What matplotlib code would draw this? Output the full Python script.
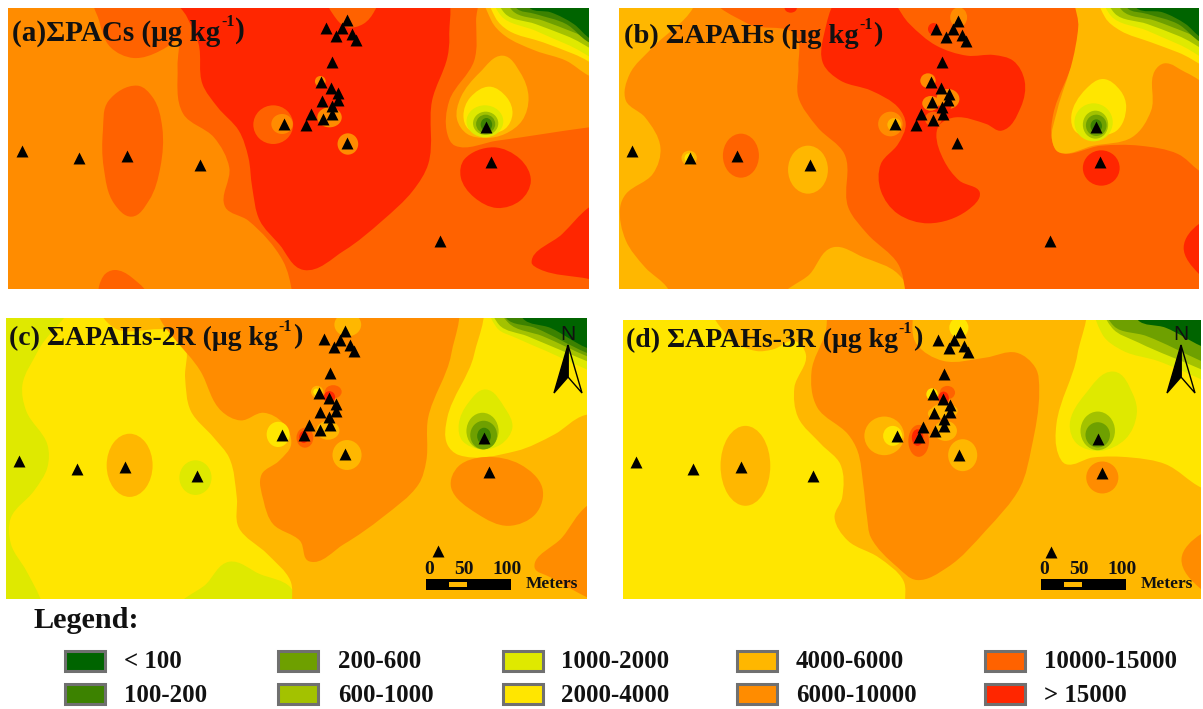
import numpy as np
import matplotlib
matplotlib.use("Agg")
import matplotlib.pyplot as plt
from matplotlib.path import Path
from matplotlib.patches import PathPatch, Ellipse, Rectangle, Polygon

plt.rcParams['font.family'] = ['Liberation Serif', 'DejaVu Serif']
plt.rcParams['font.weight'] = 'bold'

W, H = 1203, 709

class_labels = ['< 100', '100-200', '200-600', '600-1000', '1000-2000', '2000-4000',
                '4000-6000', '6000-10000', '10000-15000', '> 15000']
class_colors = ['#006400', '#3c8200', '#6ea000', '#a3c200', '#dfe900', '#ffe600',
                '#ffb700', '#ff8c00', '#ff6200', '#ff2600']

# Sampling stations, per panel
stations_a = [(58,450),(207,473),(333,467),(523,494),(743,371),(800,372),(814,341),(845,355),(868,340),(868,317),(843,302),(884,297),(885,277),(867,261),(839,245),(868,184),(852,83),(880,107),(895,83),(908,58),(921,100),(932,118),(907,428),(1271,380),(1283,483),(1151,722)]
stations_b = [(77,450),(226,473),(351,467),(541,494),(761,371),(818,372),(831,341),(861,357),(886,340),(884,319),(859,303),(901,299),(902,279),(883,262),(855,245),(885,185),(869,85),(896,108),(912,85),(926,60),(936,102),(948,120),(924,428),(1287,380),(1298,483),(1166,722)]
stations_c = [(52,450),(202,473),(328,467),(517,494),(739,371),(795,373),(808,342),(838,357),(864,342),(862,319),(837,303),(878,301),(880,278),(862,262),(834,245),(863,185),(847,84),(874,108),(889,85),(903,60),(916,100),(926,118),(903,428),(1266,381),(1278,483),(1145,722)]
stations_d = [(86,453),(235,475),(360,470),(549,497),(768,374),(825,377),(837,347),(867,361),(892,345),(891,323),(865,307),(906,304),(908,283),(889,265),(862,249),(891,188),(876,88),(903,112),(918,88),(932,63),(944,105),(954,122),(931,431),(1293,384),(1303,486),(1171,723)]

# Contour regions: (class index, outline) painted in order
regions_a = [
 (8, [(440,-60),(470,100),(465,200),(480,340),(560,410),(600,500),(590,620),(650,660),(740,780),(765,880),(770,1000),(1800,1000),(1800,345),(1540,380),(1300,420),(1190,435),(1170,400),(1175,300),(1240,180),(1245,60),(1240,-60)]),
 (8, [(250,-20),(260,60),(290,140),(350,172),(420,150),(480,90),(470,-20)]),
 (8, [(360,255),(400,290),(425,380),(420,500),(390,600),(345,648),(300,610),(272,500),(270,390),(285,300)]),
 (8, [(268,900),(272,825),(300,808),(345,830),(385,900)]),
 (9, [(440,-60),(490,50),(520,130),(530,250),(570,320),(625,390),(650,470),(660,560),(680,660),(730,730),(795,808),(900,750),(1000,660),(1080,570),(1120,490),(1130,300),(1170,170),(1175,110),(1150,-60)]),
 (8, [(860,-20),(880,55),(910,80),(950,70),(980,30),(990,-20)]),
 (9, [(1290,440),(1360,475),(1388,540),(1360,600),(1300,622),(1240,590),(1205,530),(1215,475)]),
 (9, [(1700,520),(1540,620),(1470,700),(1390,785),(1410,805),(1540,835),(1700,880)]),
 (6, [(1315,165),(1360,215),(1382,290),(1365,360),(1320,400),(1270,412),(1222,400),(1195,355),(1205,290),(1255,215)]),
 (5, [(1280,258),(1325,290),(1340,340),(1320,385),(1270,400),(1225,385),(1212,345),(1230,290)]),
 (6, [(1272,-60),(1285,60),(1320,105),(1400,150),(1480,180),(1540,225),(1800,330),(1800,-60)]),
 (5, [(1282,-60),(1295,50),(1330,90),(1420,125),(1500,160),(1800,300),(1800,-60)]),
 (4, [(1295,-60),(1310,45),(1400,90),(1480,130),(1800,275),(1800,-60)]),
 (3, [(1305,-60),(1320,38),(1400,70),(1480,105),(1800,250),(1800,-60)]),
 (2, [(1325,-60),(1340,30),(1420,60),(1500,95),(1800,230),(1800,-60)]),
 (1, [(1345,-60),(1350,22),(1400,40),(1480,70),(1540,125),(1800,220),(1800,-60)]),
 (0, [(1375,-60),(1385,22),(1440,35),(1500,70),(1545,115),(1800,200),(1800,-60)]),
]
spots_a = [(8,715,372,52,58),(7,738,370,28,30),(7,910,430,27,32),(7,862,350,32,30),(7,838,242,14,16),
           (4,1268,362,48,48),(3,1270,368,33,35),(2,1270,370,25,28),(1,1272,372,15,20)]

regions_b = [
 (6, [(-200,-100),(260,-100),(235,22),(130,140),(70,220),(60,300),(110,350),(150,440),(130,520),(60,580),(45,620),(60,720),(110,800),(170,865),(200,1000),(-200,1000)]),
 (6, [(470,900),(540,820),(600,740),(680,770),(770,820),(800,900)]),
 (8, [(280,-40),(380,70),(500,100),(510,200),(510,290),(560,380),(630,460),(640,620),(690,700),(770,790),(790,880),(800,1000),(1800,1000),(1800,700),(1555,510),(1500,460),(1400,435),(1300,435),(1190,455),(1172,420),(1175,340),(1230,170),(1240,90),(1240,-60)]),
 (9, [(640,-40),(575,110),(575,190),(620,240),(700,270),(770,320),(790,370),(770,430),(725,490),(725,570),(770,640),(850,668),(950,630),(983,575),(930,540),(890,480),(870,400),(880,370),(920,350),(1000,370),(1040,390),(1090,320),(1100,240),(1070,180),(1020,163),(950,165),(870,135),(800,70),(720,-40)]),
 (9, [(1800,600),(1555,670),(1515,740),(1555,820),(1800,1000)]),
 (6, [(1240,-60),(1240,80),(1225,180),(1185,330),(1172,420),(1190,455),(1280,435),(1380,410),(1430,330),(1440,210),(1465,188),(1520,215),(1800,370),(1800,-60)]),
 (5, [(1305,235),(1350,270),(1365,320),(1340,390),(1290,405),(1235,395),(1222,345),(1260,265)]),
 (5, [(1297,-60),(1310,50),(1350,90),(1430,125),(1500,155),(1800,300),(1800,-60)]),
 (4, [(1312,-60),(1325,45),(1420,90),(1500,130),(1800,275),(1800,-60)]),
 (3, [(1320,-60),(1335,38),(1420,70),(1500,105),(1800,250),(1800,-60)]),
 (2, [(1340,-60),(1355,30),(1440,60),(1520,95),(1800,230),(1800,-60)]),
 (1, [(1362,-60),(1368,22),(1420,40),(1500,70),(1560,125),(1800,220),(1800,-60)]),
 (0, [(1380,-60),(1392,22),(1460,35),(1520,70),(1560,110),(1800,200),(1800,-60)]),
]
spots_b = [(9,490,22,16,14),(8,360,465,47,66),(6,225,472,20,22),(5,225,472,12,14),(6,535,507,52,72),
           (7,750,370,32,37),(6,760,372,18,20),(9,1300,502,48,53),(7,928,50,22,30),(9,863,85,15,18),
           (7,848,240,20,22),(7,900,295,30,30),(7,855,308,22,22),(8,862,355,22,22),(9,895,318,14,12),
           (4,1280,365,50,57),(3,1285,372,33,42),(2,1287,374,27,32),(1,1287,376,15,20)]

regions_c = [
 (4, [(-200,-100),(200,-100),(100,120),(60,220),(70,300),(125,400),(125,470),(90,540),(30,620),(30,700),(70,780),(112,880),(130,1000),(-200,1000)]),
 (4, [(470,900),(540,820),(600,753),(680,790),(760,830),(775,900)]),
 (6, [(265,-30),(300,50),(450,60),(485,100),(485,200),(500,300),(560,380),(600,440),(620,560),(625,650),(700,730),(760,810),(765,880),(775,1000),(1800,1000),(1800,320),(1530,312),(1450,370),(1350,420),(1200,432),(1170,400),(1170,320),(1240,130),(1245,-60)]),
 (7, [(420,-60),(530,190),(580,300),(630,328),(690,305),(740,335),(762,400),(730,450),(685,490),(690,570),(715,640),(785,690),(810,752),(900,700),(1000,620),(1095,520),(1115,450),(1120,320),(1180,130),(1180,-60)]),
 (7, [(1270,438),(1360,460),(1418,530),(1400,610),(1330,645),(1250,610),(1180,530),(1200,465)]),
 (7, [(1700,500),(1535,585),(1470,680),(1398,770),(1440,800),(1535,860),(1700,950)]),
 (4, [(1270,235),(1320,290),(1340,350),(1310,400),(1260,415),(1210,390),(1200,340),(1225,275)]),
 (4, [(1285,-60),(1300,50),(1350,80),(1430,120),(1535,175),(1800,300),(1800,-60)]),
 (3, [(1292,-60),(1305,40),(1380,75),(1535,150),(1800,275),(1800,-60)]),
 (2, [(1305,-60),(1330,35),(1420,75),(1535,135),(1800,250),(1800,-60)]),
 (1, [(1318,-60),(1325,22),(1400,50),(1535,125),(1800,230),(1800,-60)]),
 (0, [(1360,-60),(1368,22),(1440,50),(1535,110),(1800,190),(1800,-60)]),
]
spots_c = [(6,910,40,35,35),(5,728,370,30,38),(6,908,432,38,45),(6,858,358,30,28),(6,830,242,16,18),(5,828,242,8,10),
           (8,872,242,22,20),(9,862,258,15,18),(7,862,285,14,22),(8,798,380,22,30),(9,795,378,12,18),
           (6,340,463,60,95),(4,512,500,42,52),
           (3,1262,360,42,55),(2,1265,372,35,43),(1,1266,375,18,25)]

regions_d = [
 (6, [(285,-60),(330,80),(400,120),(445,115),(500,90),(530,130),(500,230),(510,320),(570,400),(620,460),(625,560),(605,620),(640,690),(720,740),(785,810),(790,880),(800,1000),(1800,1000),(1800,620),(1563,530),(1470,460),(1380,440),(1280,440),(1210,460),(1190,430),(1185,340),(1240,130),(1245,-60)]),
 (7, [(610,-60),(580,70),(545,180),(560,290),(640,370),(665,420),(680,520),(690,620),(700,680),(770,770),(820,808),(900,770),(1000,660),(1090,530),(1120,410),(1140,240),(1130,170),(1080,125),(1000,140),(890,150),(820,100),(790,-60)]),
 (7, [(1800,600),(1563,670),(1512,745),(1563,835),(1800,950)]),
 (4, [(1335,182),(1385,250),(1395,310),(1365,385),(1300,420),(1240,400),(1220,340),(1260,250)]),
 (4, [(1297,-60),(1305,70),(1360,120),(1450,150),(1563,205),(1800,330),(1800,-60)]),
 (3, [(1308,-60),(1330,50),(1400,95),(1563,175),(1800,300),(1800,-60)]),
 (2, [(1315,-60),(1335,45),(1420,75),(1563,150),(1800,270),(1800,-60)]),
 (0, [(1392,-60),(1398,27),(1470,50),(1563,105),(1800,210),(1800,-60)]),
]
spots_d = [(6,735,375,52,58),(5,757,375,25,30),(6,940,433,38,48),(6,895,360,30,30),(5,860,250,15,18),
           (6,892,300,35,22),(6,865,308,16,16),(5,930,50,25,30),(8,825,390,27,48),(9,822,380,15,25),
           (8,900,245,20,20),(9,890,262,14,20),(6,372,465,65,120),(7,1305,500,42,48),
           (3,1293,360,45,58),(2,1293,372,32,38)]

panels = [
 dict(base=7, box=(8,8,589,289),   lim=(22,1540,865,22),  reg=regions_a, spots=spots_a, st=stations_a),
 dict(base=7, box=(619,8,1199,289),lim=(42,1555,865,22),  reg=regions_b, spots=spots_b, st=stations_b),
 dict(base=5, box=(6,318,587,599), lim=(17,1535,865,20),  reg=regions_c, spots=spots_c, st=stations_c),
 dict(base=5, box=(623,320,1201,599),lim=(52,1563,865,27),reg=regions_d, spots=spots_d, st=stations_d),
]

titles = [
 (12, 33, '(a)\u03a3PACs (\u03bcg kg', '-1', ')', 21),
 (624, 36, '(b) \u03a3APAHs (\u03bcg kg', '-1', ')', 20.5),
 (9, 338, '(c) \u03a3APAHs-2R (\u03bcg kg', '-1', ')', 20),
 (626, 340, '(d) \u03a3APAHs-3R (\u03bcg kg', '-1', ')', 20),
]

def smooth_path(pts):
    # Closed smooth outline whose handles scale with each segment, so far-away
    # anchor points outside the panel do not cause overshoot.
    p = np.asarray(pts, float)
    n = len(p)
    tang = []
    for i in range(n):
        a = p[i] - p[i-1]; b = p[(i+1) % n] - p[i]
        t = a/np.linalg.norm(a) + b/np.linalg.norm(b)
        nt = np.linalg.norm(t)
        tang.append(t/nt if nt > 1e-9 else b/np.linalg.norm(b))
    verts = [p[0]]
    codes = [Path.MOVETO]
    for i in range(n):
        j = (i+1) % n
        d = np.linalg.norm(p[j]-p[i])/3
        verts += [p[i] + tang[i]*d, p[j] - tang[j]*d, p[j]]
        codes += [Path.CURVE4]*3
    return Path(verts, codes)

fig = plt.figure(figsize=(W/100, H/100), dpi=100, facecolor='white')

for pn in panels:
    x0, y0, x1, y1 = pn['box']
    ax = fig.add_axes([x0/W, 1-y1/H, (x1-x0)/W, (y1-y0)/H])
    xa, xb, yb, ya = pn['lim']
    ax.set_xlim(xa, xb); ax.set_ylim(yb, ya); ax.set_axis_off()
    ax.add_patch(Rectangle((xa, ya), xb-xa, yb-ya, fc=class_colors[pn['base']], ec='none', zorder=0))
    for k, (c, pts) in enumerate(pn['reg']):
        ax.add_patch(PathPatch(smooth_path(pts), fc=class_colors[c], ec='none', zorder=1+k*0.01))
    for k, (c, cx, cy, rx, ry) in enumerate(pn['spots']):
        ax.add_patch(Ellipse((cx, cy), 2*rx, 2*ry, fc=class_colors[c], ec='none', zorder=2+k*0.01))
    sx, sy = zip(*pn['st'])
    ax.scatter(sx, sy, marker='^', s=74, c='black', linewidths=0, zorder=5)

# Overlay in pixel coordinates
ov = fig.add_axes([0, 0, 1, 1], facecolor='none')
ov.set_xlim(0, W); ov.set_ylim(H, 0); ov.set_axis_off()

for x, y, main, sup, end, fs in titles:
    t = ov.text(x, y, main, fontsize=fs, fontweight='bold', va='center', ha='left', color='#111111')
    s = ov.annotate(sup, xy=(1, 0.62), xycoords=t, xytext=(0.5, 0), textcoords='offset points',
                    fontsize=11.5, fontweight='bold', va='bottom', ha='left', color='#111111')
    ov.annotate(end, xy=(1, 0), xycoords=s, xytext=(0.5, -10), textcoords='offset points',
                fontsize=fs, fontweight='bold', va='bottom', ha='left', color='#111111')

# North arrows and scale bars (c, d)
north_arrows = [(568, 345), (1181, 345)]
for nx, ny in north_arrows:
    ov.text(nx, ny-10, 'N', fontsize=15, fontweight='normal', ha='center', va='center', family='Liberation Sans', color='#111111')
    ov.add_patch(Polygon([(nx, ny), (nx-14, ny+48), (nx, ny+32)], fc='black', ec='black', lw=1))
    ov.add_patch(Polygon([(nx, ny), (nx+14, ny+48), (nx, ny+32)], fc='none', ec='black', lw=1))

scale_bars = [(426, 579), (1041, 579)]
for bx, by in scale_bars:
    ov.add_patch(Rectangle((bx, by), 85, 11, fc='black', ec='none'))
    ov.add_patch(Rectangle((bx+23, by+3), 18, 5, fc='#ffb700', ec='none'))
    for dx, lab in zip((3, 38, 81), ('0', '50', '100')):
        ov.text(bx+dx, by-9, lab, fontsize=14, fontweight='bold', ha='center', va='center', color='#111111')
    ov.text(bx+100, by+5, 'Meters', fontsize=12.5, fontweight='bold', ha='left', va='center', color='#111111')

# Legend
ov.text(34, 621, 'Legend:', fontsize=21.8, fontweight='bold', ha='left', va='center', color='#111111')
swatch_x = [65, 278, 503, 737, 985]
text_x = [124, 338, 561, 796, 1044]
rows_y = [660.5, 694]
for i, (lab, col) in enumerate(zip(class_labels, class_colors)):
    c, r = divmod(i, 2)
    ov.add_patch(Rectangle((swatch_x[c], rows_y[r]-10), 40, 20, fc=col, ec='#707070', lw=2.2))
    ov.text(text_x[c], rows_y[r]+1, lab, fontsize=17.9, fontweight='bold', ha='left', va='center', color='#111111')

fig.savefig('out.png', dpi=100)
